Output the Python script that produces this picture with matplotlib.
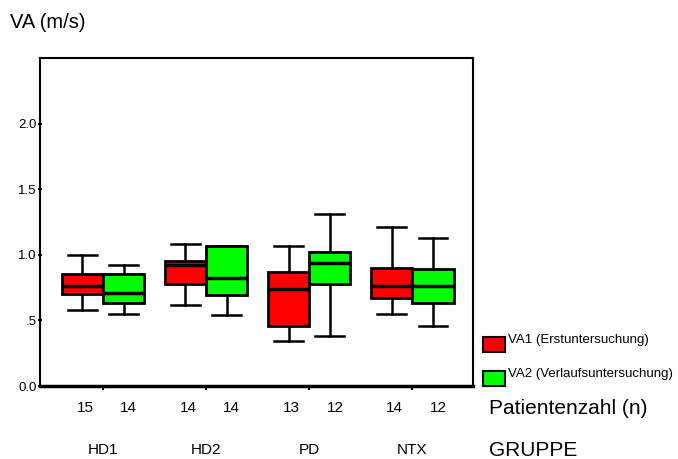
import matplotlib.pyplot as plt
from matplotlib.patches import Rectangle

# data
groups = ['HD1', 'HD2', 'PD', 'NTX']
n_va1 = [15, 14, 13, 14]
n_va2 = [14, 14, 12, 12]

# whisker low, q1, median, q3, whisker high
va1_low = [0.58, 0.62, 0.34, 0.55]
va1_q1 = [0.70, 0.78, 0.46, 0.67]
va1_med = [0.76, 0.92, 0.74, 0.76]
va1_q3 = [0.85, 0.95, 0.87, 0.90]
va1_high = [1.00, 1.08, 1.07, 1.21]

va2_low = [0.55, 0.54, 0.38, 0.46]
va2_q1 = [0.63, 0.69, 0.78, 0.63]
va2_med = [0.71, 0.82, 0.94, 0.76]
va2_q3 = [0.85, 1.07, 1.02, 0.89]
va2_high = [0.92, 1.07, 1.31, 1.13]

yticks = [0.0, 0.5, 1.0, 1.5, 2.0]
ytick_labels = ['0.0', '.5', '1.0', '1.5', '2.0']

red = '#ff0000'
green = '#00ff00'
font = 'Liberation Sans'


def make_stats(low, q1, med, q3, high):
    return [dict(whislo=a, q1=b, med=c, q3=d, whishi=e, fliers=[])
            for a, b, c, d, e in zip(low, q1, med, q3, high)]


fig = plt.figure(figsize=(6.78, 4.59), dpi=100)
ax = fig.add_axes([0.059, 0.159, 0.639, 0.7146])

pos = list(range(1, len(groups) + 1))
off = 0.2
w = 0.4

for stats, shift, col in [(make_stats(va1_low, va1_q1, va1_med, va1_q3, va1_high), -off, red),
                          (make_stats(va2_low, va2_q1, va2_med, va2_q3, va2_high), off, green)]:
    ax.bxp(stats, positions=[p + shift for p in pos], widths=w,
           capwidths=0.28, patch_artist=True, showfliers=False,
           boxprops=dict(facecolor=col, edgecolor='black', linewidth=2),
           medianprops=dict(color='black', linewidth=2.5),
           whiskerprops=dict(color='black', linewidth=1.8),
           capprops=dict(color='black', linewidth=1.8))

ax.set_xlim(0.39, 4.59)
ax.set_ylim(0, 2.5)
ax.set_yticks(yticks)
ax.set_yticklabels(ytick_labels, fontsize=9.5, family=font)
ax.set_xticks(pos)
ax.set_xticklabels([])
ax.tick_params(axis='y', direction='inout', length=3, width=1.5, pad=1)
ax.tick_params(axis='x', direction='out', length=3, width=1.5)
for s in ['left', 'top', 'right']:
    ax.spines[s].set_linewidth(1.5)
ax.spines['bottom'].set_linewidth(2.5)

# patient counts and group labels under the axis
xt = ax.get_xaxis_transform()
for p, a, b, g in zip(pos, n_va1, n_va2, groups):
    ax.text(p - off + 0.03, -0.068, str(a), transform=xt,
            ha='center', va='center', fontsize=11, family=font)
    ax.text(p + off + 0.05, -0.068, str(b), transform=xt,
            ha='center', va='center', fontsize=11, family=font)
    ax.text(p, -0.195, g, transform=xt,
            ha='center', va='center', fontsize=11, family=font)

fig.text(489 / 678, 1 - 409 / 459, 'Patientenzahl (n)', fontsize=15,
         family=font, va='center', ha='left')
fig.text(489 / 678, 1 - 450 / 459, 'GRUPPE', fontsize=15,
         family=font, va='center', ha='left')
fig.text(10 / 678, 1 - 22 / 459, 'VA (m/s)', fontsize=14.5,
         family=font, va='center', ha='left')

# legend
for top, col, lab in [(337, red, 'VA1 (Erstuntersuchung)'),
                      (371, green, 'VA2 (Verlaufsuntersuchung)')]:
    fig.patches.append(Rectangle((483 / 678, 1 - (top + 15) / 459), 22 / 678, 15 / 459,
                                 transform=fig.transFigure, facecolor=col,
                                 edgecolor='black', linewidth=1.5))
    fig.text(508 / 678, 1 - (top + 3) / 459, lab, fontsize=9.5,
             family=font, va='center', ha='left')

plt.savefig('out.png', dpi=100)
